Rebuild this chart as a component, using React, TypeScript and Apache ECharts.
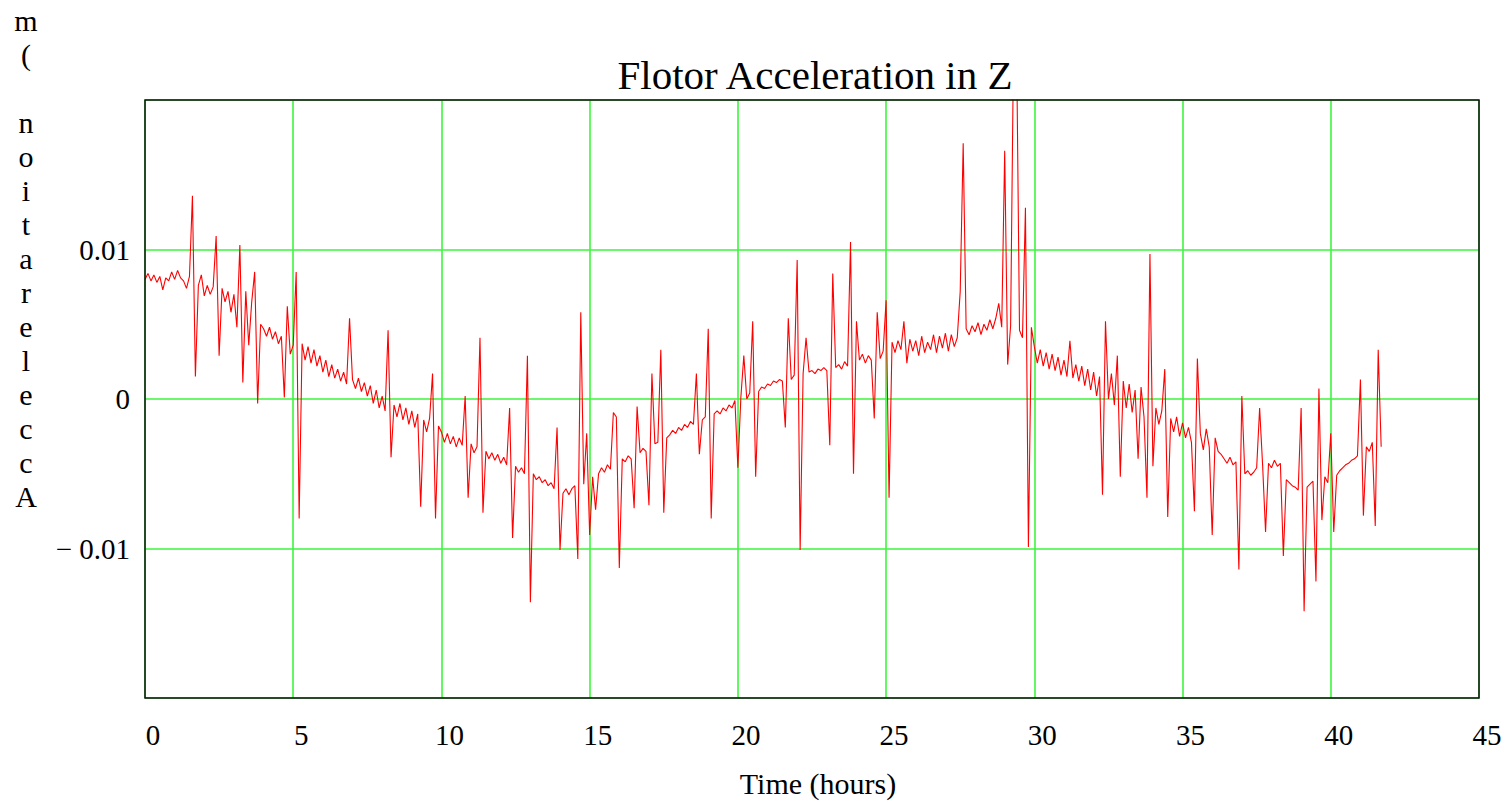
import React, { useEffect, useRef } from "react";
import * as echarts from "echarts";

const SAMPLE_STEP_HOURS = 0.1;

const accelMilli_0_10 = [
  8.0, 8.4, 7.9, 8.3, 7.8, 8.2, 7.3, 8.1, 7.9, 8.5,
  8.0, 8.6, 8.1, 7.9, 7.4, 8.2, 13.6, 1.5, 7.6, 8.3,
  6.9, 7.6, 7.0, 7.5, 10.9, 2.9, 7.4, 6.5, 7.2, 5.8,
  7.0, 4.8, 10.3, 1.1, 7.2, 3.6, 6.5, 8.5, -0.3, 5.0,
  4.7, 4.2, 4.8, 4.0, 4.5, 3.7, 4.2, 0.1, 6.2, 3.0,
  3.6, 8.5, -8.0, 3.7, 2.6, 3.5, 2.4, 3.3, 2.2, 2.9,
  1.8, 2.6, 1.5, 2.3, 1.4, 2.0, 1.2, 1.8, 1.0, 5.4,
  1.3, 0.7, 1.4, 0.5, 1.1, 0.2, 0.9, -0.3, 0.6, -0.6,
  0.2, -0.8, 4.6, -3.9, -0.4, -1.2, -0.3, -1.4, -0.6, -1.7,
  -0.8, -1.9, -1.0, -7.2, -1.4, -2.2, -1.3, 1.7, -8.0, -1.8,
];

const accelMilli_10_20 = [
  -2.2, -2.9, -2.3, -3.0, -2.5, -3.2, -2.6, -3.1, 0.2, -6.6,
  -3.0, -3.6, -3.2, 4.1, -7.6, -3.5, -4.0, -3.6, -4.1, -3.7,
  -4.3, -3.9, -4.4, -0.6, -9.3, -4.5, -4.9, -4.6, -5.0, 2.9,
  -13.6, -5.0, -5.4, -5.2, -5.6, -5.4, -5.8, -5.6, -6.0, -1.9,
  -10.1, -6.3, -6.0, -6.4, -6.0, -5.8, -10.7, 5.8, -5.7, -2.3,
  -9.1, -5.2, -7.4, -5.0, -4.6, -4.9, -4.4, -4.7, -0.9, -1.2,
  -11.3, -4.0, -4.2, -3.8, -4.0, -7.3, -0.5, -3.6, -3.3, -3.5,
  -7.1, 1.7, -3.0, -2.9, 3.3, -7.6, -2.6, -2.4, -2.1, -2.3,
  -1.9, -2.1, -1.7, -1.9, -1.5, -1.7, 1.7, -3.7, -1.4, -1.2,
  4.7, -8.0, -1.0, -0.8, -1.0, -0.6, -0.8, -0.4, -0.6, -0.1,
];

const accelMilli_20_30 = [
  -4.6, 0.1, 2.9, 0.0, 0.4, 5.2, -5.2, 0.5, 0.8, 0.7,
  1.0, 0.9, 1.2, 1.1, 1.3, 1.2, -1.9, 5.4, 1.3, 1.6,
  9.3, -10.1, 1.7, 4.1, 1.8, 1.9, 1.7, 2.0, 1.9, 2.1,
  1.9, -3.1, 8.4, 2.1, 2.3, 2.0, 2.5, 2.2, 10.5, -5.0,
  5.2, 2.6, 3.0, 2.4, 2.9, 2.6, -1.3, 5.8, 2.7, 3.2,
  6.6, -6.6, 3.8, 3.1, 3.9, 3.3, 5.2, 2.4, 4.0, 3.2,
  3.9, 2.9, 4.2, 3.1, 3.8, 3.3, 4.3, 3.1, 4.2, 3.4,
  4.4, 3.2, 4.3, 3.5, 4.1, 7.2, 17.1, 4.7, 4.3, 4.9,
  4.5, 5.1, 4.3, 5.0, 4.6, 5.3, 4.7, 5.4, 6.4, 4.8,
  16.6, 2.3, 4.9, 24.0, 24.0, 4.6, 4.1, 12.8, -9.9, 4.8,
];

const accelMilli_30_end = [
  3.5, 2.4, 3.3, 2.2, 3.1, 2.0, 3.0, 1.9, 2.8, 1.6,
  2.6, 1.5, 3.9, 1.4, 2.3, 1.2, 2.2, 0.9, 2.0, 0.6,
  1.8, 0.2, 1.5, -6.4, 5.2, 0.0, 1.7, -0.4, 2.9, -5.2,
  1.2, -0.6, 1.0, -0.9, 0.6, -4.0, 0.8, -1.2, -6.6, 9.7,
  -4.5, -0.6, -1.7, -0.8, 2.0, -7.9, -1.3, -2.2, -1.2, -2.5,
  -1.6, -2.6, -1.9, -2.9, -7.5, 2.7, -2.3, -3.4, -2.0, -3.2,
  -9.1, -2.6, -3.5, -3.7, -4.0, -4.3, -3.9, -4.4, -4.2, -11.4,
  0.2, -5.0, -4.8, -5.1, -4.9, -4.6, -0.6, -4.4, -8.9, -4.3,
  -4.6, -4.1, -4.5, -4.3, -10.5, -5.4, -5.6, -5.8, -5.9, -6.1,
  -0.6, -14.2, -5.9, -5.7, -5.5, -12.2, 0.7, -8.1, -5.2, -5.6,
  -2.3, -8.9, -5.1, -4.8, -4.6, -4.4, -4.3, -4.1, -4.0, -3.8,
  1.3, -7.8, -3.2, -3.5, -2.9, -8.5, 3.3, -3.2,
];

const X_MIN = 0;
const X_MAX = 45;
const X_INTERVAL = 5;
const Y_MIN = -0.02;
const Y_MAX = 0.02;
const Y_INTERVAL = 0.01;
const Y_TICK_LABELS: Record<string, string> = { "-0.01": "\u2212 0.01", "0": "0", "0.01": "0.01" };

const TITLE = "Flotor Acceleration in Z";
const X_TITLE = "Time (hours)";
const Y_TITLE = "Acceleration (m";

const SERIF = "'Liberation Serif', 'Times New Roman', serif";
const GRID_GREEN = "#3cf53c";

export default function App() {
  const ref = useRef<HTMLDivElement>(null);

  useEffect(() => {
    document.body.style.margin = "0";
    document.body.style.overflow = "hidden";
    if (!ref.current) return;
    const chart = echarts.init(ref.current, undefined, { renderer: "svg" });

    const all = [...accelMilli_0_10, ...accelMilli_10_20, ...accelMilli_20_30, ...accelMilli_30_end];
    const data = all.map((v, i) => [Math.round(i * SAMPLE_STEP_HOURS * 10) / 10, v / 1000]);

    const gLeft = 145, gTop = 100, gWidth = 1334, gHeight = 598;

    const yChars = Y_TITLE.split("");
    const yLabelElems = yChars.map((ch, k) => ({
      type: "text",
      x: 26,
      y: 496 - 34 * k,
      z: 20,
      style: {
        text: ch,
        fontSize: 30,
        fontFamily: SERIF,
        fill: "#000",
        align: "center",
        verticalAlign: "middle",
      },
    }));

    chart.setOption({
      animation: false,
      backgroundColor: "#fff",
      grid: { left: gLeft, top: gTop, width: gWidth, height: gHeight, show: false },
      xAxis: {
        type: "value",
        min: X_MIN,
        max: X_MAX,
        interval: X_INTERVAL,
        axisLine: { show: false },
        axisTick: { show: false },
        splitLine: { show: true, lineStyle: { color: GRID_GREEN, width: 1.6 } },
        axisLabel: {
          fontSize: 29,
          fontFamily: SERIF,
          color: "#000",
          margin: 22,
          padding: [0, 0, 0, 16],
          showMinLabel: true,
          showMaxLabel: true,
        },
      },
      yAxis: {
        type: "value",
        min: Y_MIN,
        max: Y_MAX,
        interval: Y_INTERVAL,
        axisLine: { show: false },
        axisTick: { show: false },
        splitLine: { show: true, lineStyle: { color: GRID_GREEN, width: 1.6 } },
        axisLabel: {
          fontSize: 29,
          fontFamily: SERIF,
          color: "#000",
          margin: 15,
          padding: [12, 0, 0, 0],
          formatter: (v: number) => {
            const key = String(Math.round(v * 100) / 100);
            return Y_TICK_LABELS[key] ?? "";
          },
        },
      },
      graphic: {
        elements: [
          {
            type: "rect",
            z: 100,
            zlevel: 0,
            shape: { x: gLeft, y: gTop, width: gWidth, height: gHeight },
            style: { fill: "rgba(0,0,0,0)", stroke: "#111", lineWidth: 1.5 },
            silent: true,
          },
          {
            type: "text",
            x: 815,
            y: 75,
            z: 20,
            style: { text: TITLE, fontSize: 41, fontFamily: SERIF, fill: "#000", align: "center", verticalAlign: "middle" },
          },
          {
            type: "text",
            x: 818,
            y: 783,
            z: 20,
            style: { text: X_TITLE, fontSize: 30, fontFamily: SERIF, fill: "#000", align: "center", verticalAlign: "middle" },
          },
          ...yLabelElems,
        ],
      },
      series: [
        {
          type: "line",
          data,
          showSymbol: false,
          symbol: "none",
          clip: true,
          lineStyle: { color: "#ff0000", width: 1.1 },
          z: 5,
        },
      ],
    });

    return () => chart.dispose();
  }, []);

  return <div ref={ref} style={{ width: 1507, height: 802 }} />;
}
